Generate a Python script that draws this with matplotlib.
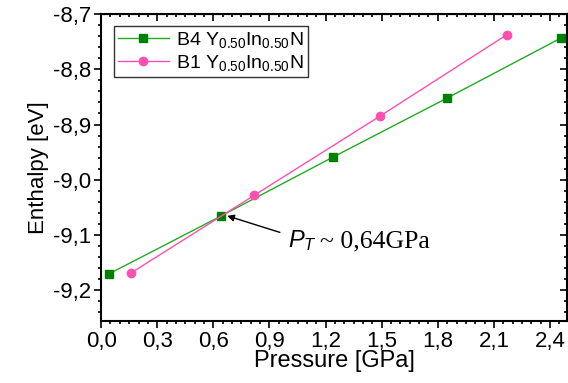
import matplotlib
matplotlib.use("Agg")
import matplotlib.pyplot as plt
from matplotlib.ticker import MultipleLocator, FuncFormatter

# B4 (wurtzite) and B1 (rocksalt) enthalpies
b4_p = [0.04, 0.64, 1.24, 1.85, 2.46]
b4_h = [-9.171, -9.066, -8.959, -8.852, -8.743]
b1_p = [0.16, 0.82, 1.49, 2.17]
b1_h = [-9.169, -9.028, -8.885, -8.737]
pt = (0.64, -9.066)

GREEN = "#008000"
LINE_GREEN = "#22aa22"
PINK = "#ff4fb0"

plt.rcParams["font.family"] = ["Liberation Sans", "DejaVu Sans"]
plt.rcParams["mathtext.fontset"] = "custom"
plt.rcParams["mathtext.rm"] = "Liberation Sans"
plt.rcParams["mathtext.it"] = "Liberation Sans:italic"

fig = plt.figure(figsize=(5.68, 3.83), dpi=100)
ax = fig.add_axes([0.178, 0.162, 0.82, 0.801])

ax.plot(b4_p, b4_h, color=LINE_GREEN, lw=1, marker="s", ms=5.5, mfc=GREEN, mec=GREEN,
        label=r"B4 Y$_{0.50}$In$_{0.50}$N")
ax.plot(b1_p, b1_h, color=PINK, lw=1, marker="o", ms=6, mfc=PINK, mec=PINK,
        label=r"B1 Y$_{0.50}$In$_{0.50}$N")

ax.set_xlim(0, 2.49)
ax.set_ylim(-9.256, -8.7)
ax.xaxis.set_major_locator(MultipleLocator(0.3))
ax.xaxis.set_minor_locator(MultipleLocator(0.05))
ax.yaxis.set_major_locator(MultipleLocator(0.1))
ax.yaxis.set_minor_locator(MultipleLocator(0.02))
comma = FuncFormatter(lambda v, _: f"{v:.1f}".replace(".", ","))
ax.xaxis.set_major_formatter(comma)
ax.yaxis.set_major_formatter(comma)
ax.tick_params(which="both", direction="out", labelsize=16, width=1.2, pad=2)
ax.tick_params(which="major", length=5)
ax.tick_params(which="minor", length=2.5)
for s in ax.spines.values():
    s.set_linewidth(1.5)

# mirrored ticks on top/right pointing inward
top = ax.secondary_xaxis("top")
top.xaxis.set_major_locator(MultipleLocator(0.3))
top.xaxis.set_minor_locator(MultipleLocator(0.05))
top.tick_params(which="both", direction="in", labeltop=False, width=1.2)
top.tick_params(which="major", length=5)
top.tick_params(which="minor", length=2.5)
right = ax.secondary_yaxis("right")
right.yaxis.set_major_locator(MultipleLocator(0.1))
right.yaxis.set_minor_locator(MultipleLocator(0.02))
right.tick_params(which="both", direction="in", labelright=False, width=1.2)
right.tick_params(which="major", length=5)
right.tick_params(which="minor", length=2.5)

ax.set_xlabel("Pressure [GPa]", fontsize=17, labelpad=-1)
ax.set_ylabel("Enthalpy [eV]", fontsize=16, labelpad=3)

leg = ax.legend(loc="upper left", bbox_to_anchor=(0.028, 0.961), borderaxespad=0,
                fontsize=14, fancybox=False, framealpha=1, edgecolor="#333333",
                handlelength=2.6, borderpad=0.2, labelspacing=0.15, handletextpad=0.4)
leg.get_frame().set_linewidth(1)

ax.annotate("", xy=(pt[0] + 0.02, pt[1] + 0.002), xytext=(0.97, -9.097),
            arrowprops=dict(arrowstyle="-|>", color="black", lw=1, mutation_scale=10))
ax.text(1.0, -9.122, r"$P_T$", fontsize=17, va="baseline", ha="left")
ax.text(1.17, -9.122, "~ 0,64GPa", fontsize=18.5, va="baseline", ha="left",
        family=["Liberation Serif", "DejaVu Serif"])

fig.savefig("out.png", dpi=100)
